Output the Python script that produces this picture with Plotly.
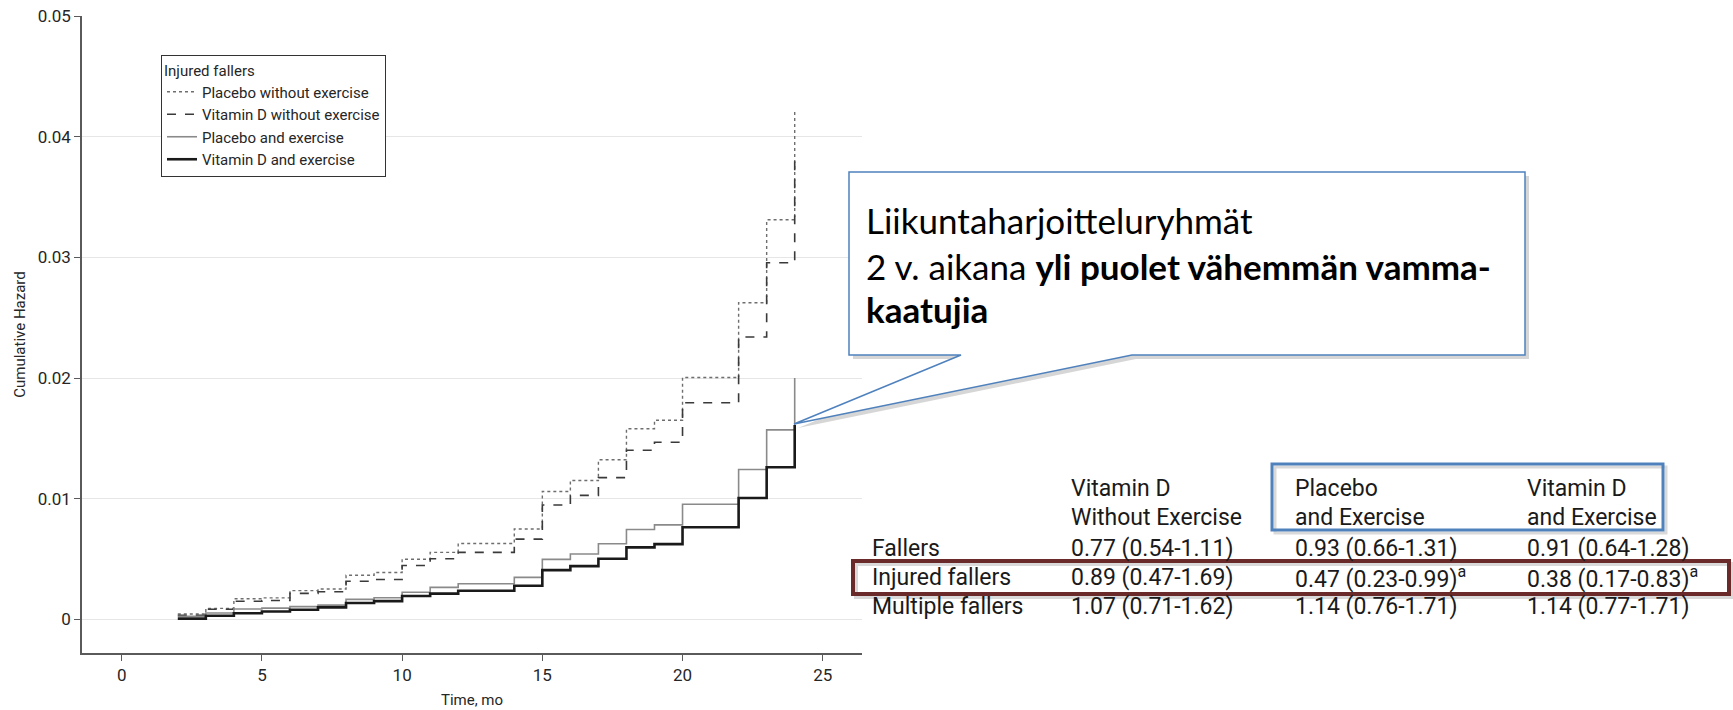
import plotly.graph_objects as go

# ---------------- data ----------------
months = list(range(2, 25))
placebo_no_ex = [0.00044, 0.00091, 0.00170, 0.00178, 0.00238, 0.00252, 0.00365, 0.00388, 0.00498,
                 0.00555, 0.00629, 0.00629, 0.00749, 0.01059, 0.01150, 0.01322, 0.01580, 0.01650,
                 0.02004, 0.02004, 0.02624, 0.03311, 0.04230]
vitd_no_ex = [0.00033, 0.00083, 0.00150, 0.00156, 0.00215, 0.00228, 0.00315, 0.00330, 0.00446,
              0.00502, 0.00555, 0.00555, 0.00665, 0.00948, 0.01027, 0.01174, 0.01401, 0.01468,
              0.01795, 0.01795, 0.02340, 0.02955, 0.03800]
placebo_ex = [0.00025, 0.00052, 0.00086, 0.00093, 0.00105, 0.00118, 0.00165, 0.00179, 0.00225,
              0.00265, 0.00295, 0.00295, 0.00348, 0.00497, 0.00541, 0.00627, 0.00745, 0.00783,
              0.00954, 0.00954, 0.01242, 0.01570, 0.02000]
vitd_ex = [0.00006, 0.00030, 0.00050, 0.00065, 0.00080, 0.00099, 0.00135, 0.00151, 0.00193,
           0.00213, 0.00237, 0.00237, 0.00278, 0.00408, 0.00441, 0.00502, 0.00596, 0.00623,
           0.00763, 0.00763, 0.01005, 0.01260, 0.01610]

series_names = ["Placebo without exercise", "Vitamin D without exercise",
                "Placebo and exercise", "Vitamin D and exercise"]
x_ticks = [0, 5, 10, 15, 20, 25]
y_ticks = [0, 0.01, 0.02, 0.03, 0.04, 0.05]
y_tick_labels = ["0", "0.01", "0.02", "0.03", "0.04", "0.05"]

callout_lines = ["Liikuntaharjoitteluryhmät",
                 "2 v. aikana <b>yli puolet vähemmän vamma-</b>",
                 "<b>kaatujia</b>"]
table_headers = [["Vitamin D", "Without Exercise"], ["Placebo", "and Exercise"], ["Vitamin D", "and Exercise"]]
table_rows = ["Fallers", "Injured fallers", "Multiple fallers"]
table_values = [
    ["0.77 (0.54-1.11)", "0.93 (0.66-1.31)", "0.91 (0.64-1.28)"],
    ["0.89 (0.47-1.69)", "0.47 (0.23-0.99)<sup>a</sup>", "0.38 (0.17-0.83)<sup>a</sup>"],
    ["1.07 (0.71-1.62)", "1.14 (0.76-1.71)", "1.14 (0.77-1.71)"],
]

# ---------------- layout geometry ----------------
W, H = 1733, 710
ML, MR, MT, MB = 82, 871, 16, 57
PW, PH = W - ML - MR, H - MT - MB


def px2x(px):
    return (px - ML) / PW


def py2y(py):
    return (H - MB - py) / PH


FONT = "Roboto, Arial, sans-serif"
TXT = "#262626"

fig = go.Figure()
styles = [
    dict(color="#6e6e6e", width=1.4, dash="dot"),
    dict(color="#3a3a3a", width=1.6, dash="dash"),
    dict(color="#8a8a8a", width=1.6, dash="solid"),
    dict(color="#1a1a1a", width=2.6, dash="solid"),
]
for name, vals, st in zip(series_names, [placebo_no_ex, vitd_no_ex, placebo_ex, vitd_ex], styles):
    fig.add_trace(go.Scatter(x=months, y=vals, mode="lines", name=name,
                             line=dict(shape="hv", **st)))

fig.update_layout(
    width=W, height=H,
    margin=dict(l=ML, r=MR, t=MT, b=MB, pad=0, autoexpand=False),
    paper_bgcolor="white", plot_bgcolor="white",
    font=dict(family=FONT, color=TXT),
    showlegend=True,
    legend=dict(
        x=px2x(161), y=py2y(55), xanchor="left", yanchor="top",
        bgcolor="white", bordercolor="#333333", borderwidth=1,
        font=dict(family=FONT, size=15, color=TXT),
        title=dict(text="Injured fallers", font=dict(family=FONT, size=15, color=TXT)),
        traceorder="normal", itemwidth=30, tracegroupgap=0,
    ),
    xaxis=dict(
        range=[-1.416, 26.40], tickvals=x_ticks, ticktext=[str(v) for v in x_ticks],
        showgrid=False, zeroline=False, automargin=False,
        showline=True, linecolor="#5a5a5a", linewidth=1.5,
        ticks="outside", ticklen=6, tickcolor="#5a5a5a", tickwidth=1.2,
        tickfont=dict(family=FONT, size=17, color=TXT),
        title=dict(text="Time, mo", font=dict(family=FONT, size=15, color=TXT), standoff=10),
    ),
    yaxis=dict(
        range=[-0.00279, 0.05], tickvals=y_ticks, ticktext=y_tick_labels,
        showgrid=True, gridcolor="#e6e6e6", gridwidth=1, zeroline=False, automargin=False,
        showline=True, linecolor="#5a5a5a", linewidth=1.5,
        ticks="outside", ticklen=6, tickcolor="#5a5a5a", tickwidth=1.2,
        tickfont=dict(family=FONT, size=17, color=TXT),
        title=dict(text="Cumulative Hazard", font=dict(family=FONT, size=15, color=TXT), standoff=8),
    ),
)

# ---------------- callout ----------------
bx0, by0, bx1, by1 = 849, 172, 1525, 355
base1, base2 = 961, 1132
tip = (794, 424)


def callout_path(dx=0, dy=0):
    pts = [(bx0, by0), (bx1, by0), (bx1, by1), (base2, by1), tip, (base1, by1), (bx0, by1)]
    pts = [(px2x(p[0] + dx), py2y(p[1] + dy)) for p in pts]
    return "M " + " L ".join(f"{a:.5f},{b:.5f}" for a, b in pts) + " Z"


fig.add_shape(type="path", path=callout_path(4, 4), xref="paper", yref="paper",
              fillcolor="rgba(0,0,0,0.16)", line=dict(width=0), layer="above")
fig.add_shape(type="path", path=callout_path(), xref="paper", yref="paper",
              fillcolor="white", line=dict(color="#4F81BD", width=1.5), layer="above")

CFONT = "Lato, 'Open Sans', sans-serif"
for i, (txt, yc) in enumerate(zip(callout_lines, [220, 266, 309])):
    fig.add_annotation(x=px2x(864), y=py2y(yc), xref="paper", yref="paper", text=txt,
                       showarrow=False, xanchor="left", yanchor="middle", align="left",
                       font=dict(family=CFONT, size=35, color="#000000"))

# ---------------- table ----------------
fig.add_shape(type="rect", xref="paper", yref="paper",
              x0=px2x(1275), x1=px2x(1666), y0=py2y(467), y1=py2y(533),
              line=dict(color="rgba(0,0,0,0.15)", width=3), layer="above")
fig.add_shape(type="rect", xref="paper", yref="paper",
              x0=px2x(1272), x1=px2x(1663), y0=py2y(464), y1=py2y(530),
              line=dict(color="#4F81BD", width=3), layer="above")
fig.add_shape(type="rect", xref="paper", yref="paper",
              x0=px2x(856), x1=px2x(1732), y0=py2y(564), y1=py2y(597),
              line=dict(color="rgba(0,0,0,0.15)", width=4), layer="above")
fig.add_shape(type="rect", xref="paper", yref="paper",
              x0=px2x(853), x1=px2x(1729), y0=py2y(561), y1=py2y(594),
              line=dict(color="#6B2A2A", width=4), layer="above")

TFONT = "Roboto, Arial, sans-serif"
TSIZE = 23
col_x = [1069, 1293, 1525]
row_label_x = 870
for cx, hdr in zip(col_x, table_headers):
    for line, yc in zip(hdr, [488, 517]):
        fig.add_annotation(x=px2x(cx), y=py2y(yc), xref="paper", yref="paper", text=line,
                           showarrow=False, xanchor="left", yanchor="middle",
                           font=dict(family=TFONT, size=TSIZE, color="#1a1a1a"))
for rlabel, vals, yc in zip(table_rows, table_values, [548, 577, 606]):
    fig.add_annotation(x=px2x(row_label_x), y=py2y(yc), xref="paper", yref="paper", text=rlabel,
                       showarrow=False, xanchor="left", yanchor="middle",
                       font=dict(family=TFONT, size=TSIZE, color="#1a1a1a"))
    for cx, v in zip(col_x, vals):
        fig.add_annotation(x=px2x(cx), y=py2y(yc), xref="paper", yref="paper", text=v,
                           showarrow=False, xanchor="left", yanchor="middle",
                           font=dict(family=TFONT, size=TSIZE, color="#1a1a1a"))

fig.write_html(
    "out.html",
    config={"displayModeBar": False},
    post_script="document.body.style.margin='0';document.body.style.overflow='hidden';",
)
